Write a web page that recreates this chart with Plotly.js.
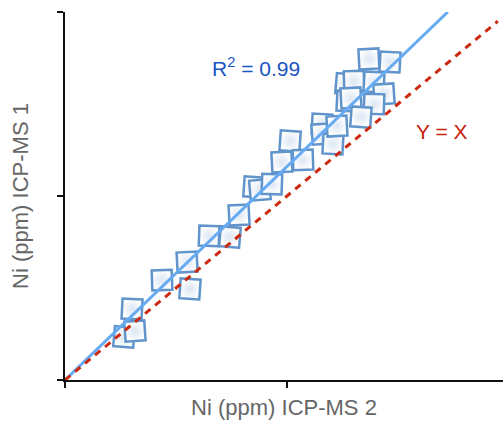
<!DOCTYPE html>
<html>
<head>
<meta charset="utf-8">
<script src="https://cdn.plot.ly/plotly-3.0.1.min.js"></script>
<style>html,body{margin:0;padding:0;background:#fff;}#chart{width:503px;height:422px;}</style>
</head>
<body>
<div id="chart"></div>
<script>
// Measured values (arbitrary units, ticks at 0, 1, 2)
const icpMs2 = [0.266, 0.315, 0.302, 0.437, 0.563, 0.550, 0.649, 0.743, 0.784, 0.851,
                0.878, 0.932, 0.977, 1.014, 1.072, 1.158, 1.158, 1.207, 1.225, 1.266,
                1.302, 1.392, 1.437, 1.270, 1.288, 1.392, 1.333, 1.369, 1.464];
const icpMs1 = [0.234, 0.266, 0.386, 0.543, 0.495, 0.641, 0.783, 0.777, 0.897, 1.049,
                1.033, 1.065, 1.185, 1.299, 1.196, 1.391, 1.337, 1.283, 1.380, 1.609,
                1.625, 1.620, 1.554, 1.516, 1.533, 1.500, 1.429, 1.745, 1.728];
const fitSlope = 1.16;
const fitLabel = "R<sup>2</sup> = 0.99";
const identityLabel = "Y = X";
const identityEnd = 1.95;
const xTitle = "Ni (ppm) ICP-MS 2";
const yTitle = "Ni (ppm) ICP-MS 1";

const xMax = 1.973, yMax = 2;
const fitX = [0, yMax / fitSlope];
const fitY = fitX.map(v => v * fitSlope);
const idX = [0, identityEnd];
const idY = idX.slice();

const angles = [5, -4, 3, -2, 4, -3, 2, 5, -3, 4, -5, 2, -3, 4, -2, 3, -4, 3, -3, 5, -2, 3, -4, 3, -3, 2, 4, -3, 3];

const traces = [
  {x: icpMs2, y: icpMs1, type: 'scatter', mode: 'markers', hoverinfo: 'skip',
   marker: {symbol: 'square', size: 20, angle: angles,
            color: '#ffffff', gradient: {type: 'radial', color: '#dce6f3'},
            line: {color: '#6094cb', width: 2.5}}},
  {x: fitX, y: fitY, type: 'scatter', mode: 'lines', hoverinfo: 'skip',
   line: {color: '#66aaf2', width: 3}},
  {x: idX, y: idY, type: 'scatter', mode: 'lines', hoverinfo: 'skip',
   line: {color: '#cc2a10', width: 3, dash: '7px,6px'}}
];

const axisBase = {showline: true, linecolor: '#111', linewidth: 2, mirror: false,
  ticks: 'outside', ticklen: 6, tickwidth: 2, tickcolor: '#111', dtick: 1, tick0: 0,
  showticklabels: false, showgrid: false, zeroline: false, fixedrange: true, automargin: false};

const layout = {
  width: 503, height: 422,
  margin: {l: 65, r: 0, t: 12, b: 42},
  paper_bgcolor: '#fff', plot_bgcolor: '#fff',
  showlegend: false,
  font: {family: 'Liberation Sans, Arial, sans-serif', color: '#666'},
  xaxis: Object.assign({}, axisBase, {range: [0, xMax],
    title: {text: xTitle, font: {size: 22, color: '#666'}, standoff: 13}}),
  yaxis: Object.assign({}, axisBase, {range: [0, yMax],
    title: {text: yTitle, font: {size: 22, color: '#666'}, standoff: 22}}),
  annotations: [
    {x: 0.86, y: 1.7, xref: 'x', yref: 'y', text: fitLabel, showarrow: false,
     font: {size: 21, color: '#1a55c2'}},
    {x: 1.7, y: 1.35, xref: 'x', yref: 'y', text: identityLabel, showarrow: false,
     font: {size: 21, color: '#c8200e'}}
  ]
};

Plotly.newPlot('chart', traces, layout, {displayModeBar: false, staticPlot: true});
</script>
</body>
</html>
